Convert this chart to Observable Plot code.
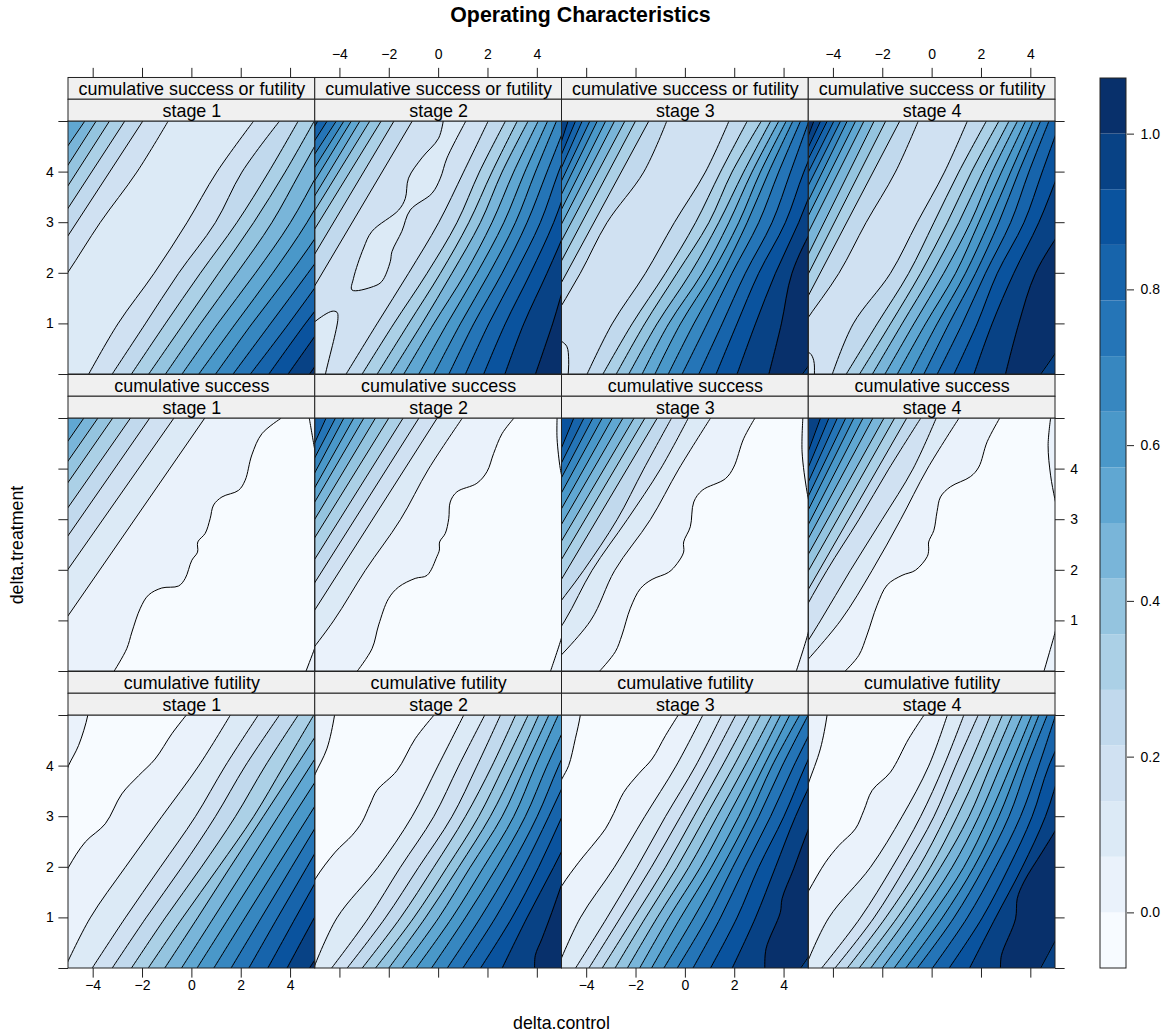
<!DOCTYPE html>
<html>
<head>
<meta charset="utf-8">
<script src="https://cdn.jsdelivr.net/npm/d3@7"></script>
<script src="https://cdn.jsdelivr.net/npm/@observablehq/plot@0.6"></script>
<style>
body{margin:0;background:#fff;font-family:"Liberation Sans",Arial,sans-serif;color:#000}
#page{position:relative;width:1167px;height:1034px;overflow:hidden}
#page svg{position:absolute}
.lab{position:absolute;white-space:nowrap;transform:translate(-50%,-50%)}
</style>
</head>
<body>
<div id="page">
<div class="lab" style="left:580.5px;top:15px;font-weight:bold;font-size:21.3px">Operating Characteristics</div>
<div class="lab" style="left:561.5px;top:1023px;font-size:17.8px">delta.control</div>
<div class="lab" style="left:17px;top:545px;font-size:17.8px;transform:translate(-50%,-50%) rotate(-90deg)">delta.treatment</div>
</div>
<script>
const typeNames = ["cumulative success or futility", "cumulative success", "cumulative futility"];
const stageNames = ["stage 1", "stage 2", "stage 3", "stage 4"];
const xTicks = [-4, -2, 0, 2, 4];
const yTicks = [0, 1, 2, 3, 4, 5];
const yLabelled = [1, 2, 3, 4];
const barTicks = [0, 0.2, 0.4, 0.6, 0.8, 1];
const bandColors = ["#F7FBFF","#EAF2FB","#DCEAF6","#D0E1F2","#C1D9ED","#ABD0E6","#94C4DF","#79B5D9","#60A7D2","#4A98C9","#3787C0","#2575B7","#1764AB","#0A539E","#084285","#08306B"];
const bandEdges = [-1/14,0,1/14,2/14,3/14,4/14,5/14,6/14,7/14,8/14,9/14,10/14,11/14,12/14,13/14,14/14,15/14];

// Each contour: x read at evenly spaced y from 0 to 5, or explicit [x,y] points.
const bandsA1 = [8,7,6,5,4,3,2,3,4,5,6,7,8,9,10,11,12,13,14,15];
const linesA1 = [
[-11.38,-4.35],[-10.46,-3.89],[-9.93,-3.35],[-9.41,-2.73],[-8.69,-2],
[-7.91,-6.49,-5.05,-3.72,-2.23,-.97],
[-4.19,-3,-1.53,-.2,1.01,2.49],
[-3.24,-1.89,-.54,.95,2.03,3.54],
[-2.46,-1.08,.34,1.82,3.11,4.3],
[-1.76,-.34,1.08,2.5,3.78,4.95],
[-1.08,.34,1.82,3.24,4.39,5.54],
[-.41,1.04,2.57,3.99,5.14,6.28],
[.27,1.76,3.27,4.66,5.81,6.96],
[.95,2.43,3.99,5.41,6.55,7.7],
[1.66,3.18,4.7,6.15,7.3,8.45],
[2.36,3.92,5.41,6.89,8.04,9.19],
[3.11,4.59,6.15,7.57,8.7,9.9],
[3.89,5.34,6.8,8.2,9.3,10.4],
[4.76,6.2,7.7,9.1,10.2,11.3]];
const patchesA1 = [];

const bandsA2 = [13,12,11,10,9,8,7,6,5,4,3,4,5,6,7,8,9,10,11,12,13,14,15];
const linesA2 = [
[-10.89,-4.91],[-11.05,-4.53],[-10.85,-4.16],[-10.31,-3.85],[-9.83,-3.55],[-9.4,-3.2],[-9.11,-2.8],[-8.65,-2.34],[-7.93,-1.82],[-7.15,-1.08],
[-3.76,-2.5,-1.22,0,1.01,2],
[-3.11,-1.82,-.47,.74,1.65,2.7],
[-2.5,-1.22,.07,1.22,2.16,3.18],
[-1.96,-.68,.54,1.69,2.57,3.62],
[-1.42,-.2,1.08,2.16,3.04,4.03],
[-.81,.34,1.55,2.64,3.49,4.41],
[-.2,.88,2.05,3.11,3.92,4.77],
[.41,1.42,2.57,3.58,4.39,5.2],
[1.08,2.03,3.11,4.12,4.86,5.68],
[1.82,2.7,3.72,4.66,5.4,6.2],
[2.68,3.45,4.39,5.27,6,6.9],
[3.92,4.62,5.27,6.3,7.2,8]];
const patchesA2 = [
{band:2,pts:[[.2,5.05],[0,4.67],[-.68,4.28],[-1.22,3.88],[-1.35,3.48],[-1.62,3.25],[-2.7,2.83],[-3.04,2.5],[-3.45,1.9],[-3.51,1.67],[-2.64,1.74],[-2.3,1.84],[-1.96,2.23],[-1.89,2.43],[-1.49,2.83],[-1.15,3.25],[-.27,3.58],[.07,3.88],[.34,4.28],[1.15,5.05]]},
{band:2,pts:[[-5.3,.9],[-5,1.05],[-4.32,1.25],[-4.12,1.23],[-4.08,1.11],[-4.59,0],[-4.66,-.2],[-4.75,-.5],[-5.3,-.5]]}];

const bandsA3 = [14,13,12,11,10,9,8,7,6,5,4,3,4,5,6,7,8,9,10,11,12,13,14,15,14];
const linesA3 = [
[-8.11,-4.76],[-8.78,-4.46],[-8.75,-4.19],[-8.74,-3.88],[-8.59,-3.58],[-8.37,-3.24],[-8.16,-2.88],[-7.89,-2.46],[-7.46,-2.03],[-7.04,-1.49],
[-6.76,-5.47,-4.26,-3.18,-1.69,-.76],
[-3.99,-2.97,-1.62,-.45,.81,1.76],
[-3.35,-2.16,-.81,.41,1.42,2.5],
[-2.81,-1.65,-.34,.95,1.89,3.07],
[-2.3,-1.15,.2,1.35,2.36,3.45],
[-1.76,-.68,.68,1.76,2.7,3.78],
[-1.24,-.2,1.08,2.16,3.04,4.08],
[-.7,.34,1.49,2.5,3.38,4.35],
[-.14,.88,1.89,2.97,3.78,4.66],
[.54,1.49,2.43,3.51,4.26,5],
[1.24,2.09,2.97,4.05,4.8,5.68],
[2.09,2.84,3.65,4.59,5.4,6.2],
[3.38,3.89,4.32,5.27,6.5,7.6],
[[4.73,0],[4.97,.16],[5.3,.4]]];
const patchesA3 = [{band:2,pts:[[-5.2,.7],[-5,.65],[-4.8,.55],[-4.73,.29],[-4.76,-.07],[-4.8,-.3],[-5.3,-.3]]}];

const bandsA4 = [15,14,13,12,11,10,9,8,7,6,5,4,3,4,5,6,7,8,9,10,11,12,13,14,15,14];
const linesA4 = [
[-8.65,-4.8],[-9.31,-4.53],[-9.38,-4.26],[-9.12,-3.99],[-8.85,-3.72],[-8.46,-3.45],[-8.23,-3.11],[-7.9,-2.77],[-7.42,-2.36],[-7.08,-1.89],[-6.69,-1.32],
[-6.49,-5.2,-3.78,-2.68,-1.49,-.57],
[-4.05,-3.2,-1.69,-.61,.5,1.42],
[-3.49,-2.23,-.95,.07,1.08,2.19],
[-2.95,-1.69,-.47,.61,1.59,2.7],
[-2.43,-1.22,0,1.08,2.05,3.11],
[-1.92,-.74,.47,1.55,2.43,3.45],
[-1.42,-.27,.95,1.89,2.81,3.78],
[-.88,.2,1.35,2.3,3.18,4.08],
[-.34,.68,1.76,2.7,3.51,4.39],
[.2,1.22,2.16,3.18,3.92,4.73],
[.88,1.82,2.64,3.72,4.46,5.2],
[1.69,2.43,3.31,4.32,5.14,5.95],
[2.97,3.51,4.19,5.41,6.62,7.84],
[[4.39,0],[5.03,.45],[5.4,.75]]];
const patchesA4 = [{band:2,pts:[[-5.2,.45],[-4.95,.42],[-4.8,.28],[-4.77,0],[-4.8,-.3],[-5.3,-.3]]}];

const bandsB1 = [8,7,6,5,4,3,2,1,0,1,1];
const linesB1 = [
[-11.49,-4.39],[-10.96,-3.82],[-10.34,-3.22],[-9.66,-2.5],[-8.84,-1.72],[-7.92,-.74],[-6.58,.51],
[[-3.16,0],[-2.64,.45],[-2.43,.78],[-2.09,1.25],[-1.76,1.51],[-1.22,1.65],[-.54,1.69],[-.27,1.84],[0,2.2],[.23,2.36],[.24,2.56],[.54,2.73],[.74,3.02],[.88,3.29],[1.22,3.45],[1.89,3.58],[2.16,3.78],[2.43,4.28],[2.84,4.7],[3.6,5]],
[[5.07,4.14],[4.97,4.41],[4.76,5]],
[[4.62,0],[4.97,.45],[5.07,.6]]];
const patchesB1 = [];

const bandsB2 = [12,11,10,9,8,7,6,5,4,3,2,1,0,1,1];
const linesB2 = [
[-9.26,-4.57],[-9.54,-4.19],[-9.3,-3.85],[-9.2,-3.45],[-9.04,-3.04],[-8.72,-2.57],[-8.38,-2.03],[-7.87,-1.45],[-7.3,-.81],[-6.61,-.07],
[-5.81,-4.26,-2.97,-1.55,-.41,.95],
[[-3.31,0],[-2.7,.45],[-2.43,.92],[-2.03,1.44],[-1.62,1.67],[-.95,1.84],[-.47,1.9],[-.07,2.27],[.03,2.4],[.04,2.56],[.27,2.73],[.41,3.02],[.47,3.35],[.74,3.55],[1.55,3.72],[1.96,3.95],[2.23,4.31],[2.57,4.7],[3.04,5]],
[[5.03,3.78],[4.93,4.01],[4.8,4.6],[4.8,5]],
[[4.53,0],[4.97,.65],[5.07,.85]]];
const patchesB2 = [];

const bandsB3 = [13,12,11,10,9,8,7,6,5,4,3,2,1,0,1,1];
const linesB3 = [
[-8.76,-4.53],[-9.26,-4.12],[-9.15,-3.76],[-8.97,-3.38],[-8.72,-2.97],[-8.47,-2.54],[-8.14,-2.09],[-7.7,-1.65],[-7.24,-1.15],
[-6.76,-5.61,-4.12,-2.77,-1.69,-.57],
[-6.28,-4.89,-3.78,-2.36,-1.01,.11],
[-5.68,-3.85,-2.86,-1.42,-.27,1.01],
[[-3.49,0],[-2.84,.39],[-2.57,.72],[-2.23,1.25],[-1.82,1.64],[-1.35,1.82],[-.68,1.96],[-.34,2.13],[-.07,2.36],[-.07,2.56],[.2,2.86],[.34,3.35],[.68,3.58],[1.62,3.81],[1.96,4.04],[2.36,4.6],[2.81,5]],
[[5.07,3.22],[4.93,3.55],[4.73,4.34],[4.76,5]],
[[4.49,0],[4.97,.75],[5.07,1]]];
const patchesB3 = [];

const bandsB4 = [14,13,12,11,10,9,8,7,6,5,4,3,2,1,0,1,1];
const linesB4 = [
[-8.31,-4.53],[-8.49,-4.19],[-8.51,-3.85],[-8.42,-3.51],[-8.27,-3.18],[-8.08,-2.81],[-7.91,-2.41],[-7.66,-1.96],[-7.32,-1.53],[-6.93,-1.04],
[-6.42,-5.41,-4.26,-2.97,-1.76,-.47],
[-5.81,-4.53,-3.31,-2.03,-.78,.16],
[-5.47,-3.72,-2.43,-1.28,-.2,1.08],
[[-3.54,0],[-2.97,.32],[-2.64,.72],[-2.23,1.31],[-1.82,1.71],[-1.22,1.9],[-.68,2],[-.2,2.27],[-.14,2.4],[-.14,2.56],[.07,2.79],[.2,3.16],[.34,3.45],[.74,3.65],[1.55,3.85],[1.89,4.04],[2.23,4.54],[2.73,5]],
[[5.07,3.2],[4.97,3.42],[4.8,3.88],[4.7,4.47],[4.8,5]],
[[4.53,0],[4.97,.75],[5.07,.95]]];
const patchesB4 = [];

const bandsC = [0,1,2,3,4,5,6,7,8,9,10,11,12,13,14,15];
const bandsCcorner = [0,1,2,3,4,5,6,7,8,9,10,11,12,13,14,15,14];
const linesC1 = [
[[-8,0],[-5.5,1.5],[-5,2],[-4.32,2.5],[-3.51,2.86],[-2.84,3.45],[-2.16,3.81],[-1.49,4.14],[-.81,4.64],[-.24,5]],
[-5.16,-4.12,-2.7,-1.22,.27,1.55],
[-4.05,-2.7,-1.28,.14,1.35,2.68],
[-3.24,-1.86,-.41,.95,2.16,3.54],
[-2.46,-1.08,.38,1.76,2.97,4.3],
[-1.78,-.38,1.08,2.5,3.72,4.93],
[-1.11,.23,1.55,2.89,4.23,5.55],
[-.43,.88,2.19,3.49,4.8,6.11],
[.2,1.5,2.8,4.09,5.41,6.7],
[.88,2.15,3.43,4.72,5.99,7.27],
[1.58,2.81,4.04,5.27,6.5,7.73],
[2.3,3.47,4.66,5.84,7.01,8.2],
[3.07,4.2,5.35,6.49,7.62,8.77],
[3.85,4.96,6.1,7.2,8.3,9.4],
[4.76,6.1,7.5,8.9,10.3,11.7]];
const patchesC1 = [{band:1,pts:[[-4.15,5.3],[-4.22,5],[-4.59,4.41],[-5,4.01],[-5.2,3.75],[-5.5,3.5],[-5.5,5.3]]}];

const linesC2 = [
[[-8,0],[-5.5,1.3],[-5,1.77],[-4.19,2.3],[-3.51,2.63],[-3.11,2.89],[-2.77,3.25],[-2.5,3.52],[-1.69,3.91],[-.95,4.54],[-.2,5]],
[-5.07,-4.12,-2.46,-1.08,-.03,1.01],
[-4.35,-2.84,-1.55,-.2,.81,1.86],
[-3.72,-2.16,-.81,.54,1.55,2.5],
[-3.11,-1.55,-.2,1.08,2.16,3.11],
[-2.57,-1.01,.34,1.62,2.64,3.62],
[-2.03,-.54,.81,2.09,3.11,4.05],
[-1.49,0,1.28,2.57,3.51,4.46],
[-.92,.54,1.82,3.04,3.92,4.84],
[-.3,1.08,2.36,3.51,4.39,5.34],
[.34,1.69,2.91,3.99,4.86,5.81],
[.97,2.3,3.45,4.46,5.41,6.35],
[1.69,2.97,4.05,5,5.95,6.89],
[2.57,3.58,4.66,5.68,6.62,7.57],
[[3.89,0],[3.92,.26],[4.19,.59],[4.59,1.11],[4.97,1.64],[5.8,2.8],[7.15,4.3],[7.97,5]]];
const patchesC2 = [{band:1,pts:[[-4.15,5.3],[-4.22,5],[-4.53,4.34],[-5,3.85],[-5.2,3.6],[-5.5,3.4],[-5.5,5.3]]}];

const linesC3 = [
[[-8,0],[-5.5,1.2],[-5,1.64],[-4.32,2.1],[-3.65,2.5],[-3.24,2.76],[-2.91,3.06],[-2.5,3.48],[-1.89,3.85],[-1.35,4.14],[-.81,4.6],[-.3,5]],
[-5.2,-4.26,-2.88,-1.65,-.38,.7],
[-4.46,-3.18,-1.96,-.81,.41,1.46],
[-3.92,-2.64,-1.38,-.2,.95,2.03],
[-3.38,-2.09,-.81,.34,1.49,2.59],
[-2.86,-1.62,-.34,.81,1.96,3.04],
[-2.36,-1.15,.14,1.28,2.41,3.49],
[-1.86,-.68,.61,1.72,2.81,3.85],
[-1.38,-.2,1.05,2.16,3.18,4.22],
[-.88,.34,1.49,2.57,3.51,4.62],
[-.34,.88,1.92,2.97,3.92,4.97],
[.3,1.42,2.41,3.45,4.39,5.41],
[1.01,2.09,2.97,3.99,4.86,5.81],
[1.89,2.84,3.65,4.46,5.41,6.35],
[[3.22,0],[3.27,.39],[3.85,1.11],[3.92,1.38],[4.39,1.97],[4.97,2.73],[5.81,3.7],[7.16,5]],
[[4.66,0],[4.97,.22],[5.2,.4]]];
const patchesC3 = [{band:1,pts:[[-4.2,5.3],[-4.26,5],[-4.46,4.54],[-4.73,4.01],[-5,3.75],[-5.2,3.55],[-5.5,3.3],[-5.5,5.3]]}];

const linesC4 = [
[[-8,0],[-5.5,1.1],[-5,1.54],[-4.32,2.1],[-3.78,2.43],[-3.11,2.76],[-2.77,3.12],[-2.43,3.52],[-1.69,3.88],[-.95,4.54],[-.34,5]],
[-5.16,-4.19,-2.5,-1.22,-.14,.61],
[-4.49,-2.91,-1.62,-.47,.47,1.28],
[-3.95,-2.36,-1.08,.07,.95,1.86],
[-3.45,-1.89,-.54,.54,1.49,2.36],
[-2.97,-1.42,-.07,1.01,1.96,2.84],
[-2.5,-1.01,.34,1.49,2.36,3.24],
[-2.03,-.54,.81,1.89,2.77,3.65],
[-1.55,-.07,1.28,2.3,3.18,4.03],
[-1.08,.41,1.69,2.7,3.51,4.32],
[-.61,.88,2.09,3.11,3.85,4.66],
[0,1.42,2.57,3.58,4.32,5],
[.68,2.03,3.11,4.05,4.73,5.68],
[1.51,2.57,3.65,4.59,5.27,6.2],
[[2.77,0],[2.81,.26],[3.38,.98],[3.45,1.38],[3.72,1.71],[4.46,2.3],[5,2.73],[6.2,3.8],[7.84,5]],
[[4.39,0],[4.97,.53],[5.2,.75]]];
const patchesC4 = [{band:1,pts:[[-4.2,5.3],[-4.26,5],[-4.53,4.34],[-5,3.68],[-5.2,3.4],[-5.5,3.2],[-5.5,5.3]]}];

const panelData = [
 [0,0,bandsA1,linesA1,patchesA1],[0,1,bandsA2,linesA2,patchesA2],[0,2,bandsA3,linesA3,patchesA3],[0,3,bandsA4,linesA4,patchesA4],
 [1,0,bandsB1,linesB1,patchesB1],[1,1,bandsB2,linesB2,patchesB2],[1,2,bandsB3,linesB3,patchesB3],[1,3,bandsB4,linesB4,patchesB4],
 [2,0,bandsC,linesC1,patchesC1],[2,1,bandsC,linesC2,patchesC2],[2,2,bandsCcorner,linesC3,patchesC3],[2,3,bandsCcorner,linesC4,patchesC4]
];

const panels = [], contourRows = [], patchRows = [];
let uid = 0;
for (const [t, s, bands, lines, patches] of panelData) {
  const type = typeNames[t], stage = stageNames[s];
  panels.push({type, stage, band: bands[0]});
  lines.forEach((ln, i) => {
    const id = uid++, band = bands[i + 1];
    const pts = typeof ln[0] === "number" ? ln.map((x, k) => [x, k * 5 / (ln.length - 1)]) : ln;
    for (const [x, y] of pts) contourRows.push({type, stage, id, band, x, y, xr: 14});
  });
  for (const p of patches) {
    const id = uid++;
    for (const [x, y] of p.pts) patchRows.push({type, stage, id, band: p.band, x, y});
  }
}
const minus = v => String(v).replace("-", "\u2212");
const leftTicks = [], rightTicks = [], topTicks = [], bottomTicks = [];
const leftLabels = [], rightLabels = [], topLabels = [], bottomLabels = [];
typeNames.forEach((type, r) => {
  for (const y of yTicks) {
    leftTicks.push({type, stage: stageNames[0], y, a: -5, b: -5.39});
    rightTicks.push({type, stage: stageNames[3], y, a: 5, b: 5.39});
  }
  for (const y of yLabelled) {
    if (r !== 1) leftLabels.push({type, stage: stageNames[0], y, x: -5.6, t: String(y)});
    else rightLabels.push({type, stage: stageNames[3], y, x: 5.6, t: String(y)});
  }
});
stageNames.forEach((stage, c) => {
  for (const x of xTicks) {
    topTicks.push({type: typeNames[0], stage, x, a: 5.86, b: 6.05});
    bottomTicks.push({type: typeNames[2], stage, x, a: 0, b: -0.19});
    if (c % 2) topLabels.push({type: typeNames[0], stage, x, y: 6.33, t: minus(x)});
    else bottomLabels.push({type: typeNames[2], stage, x, y: -0.34, t: minus(x)});
  }
});
const strips = panels.flatMap(p => [
  {type: p.type, stage: p.stage, x: 0, a: 5.43, b: 5.86, m: 5.64, t: p.type},
  {type: p.type, stage: p.stage, x: 0, a: 5, b: 5.43, m: 5.21, t: p.stage}
]);
const facet = {fx: "stage", fy: "type"};
const curve = "catmull-rom";

const main = Plot.plot({
  width: 1167, height: 1034,
  marginLeft: 68, marginRight: 112, marginTop: 121, marginBottom: 66,
  style: {fontFamily: "'Liberation Sans', Arial, sans-serif", background: "transparent", overflow: "visible", left: "0", top: "0"},
  fx: {domain: stageNames, padding: 0, round: false, axis: null},
  fy: {domain: typeNames, paddingInner: 44 / 297, paddingOuter: 0, round: false, axis: null},
  x: {domain: [-5, 5], axis: null},
  y: {domain: [0, 5], axis: null},
  color: {type: "ordinal", domain: d3.range(16), range: bandColors},
  marks: [
    Plot.rect(panels, {...facet, x1: () => -5, x2: () => 5, y1: () => 0, y2: () => 5, fill: "band"}),
    Plot.areaX(contourRows, {...facet, x1: "x", x2: "xr", y: "y", z: "id", fill: "band", curve, clip: true}),
    Plot.line(contourRows, {...facet, x: "x", y: "y", z: "id", stroke: "black", strokeWidth: 1, curve, clip: true}),
    Plot.line(patchRows, {...facet, x: "x", y: "y", z: "id", fill: "band", stroke: "black", strokeWidth: 1, curve, clip: true}),
    Plot.rect(panels, {...facet, x1: () => -5, x2: () => 5, y1: () => 0, y2: () => 5, fill: "none", stroke: "#222", strokeWidth: 1}),
    Plot.rect(strips, {...facet, x1: () => -5, x2: () => 5, y1: "a", y2: "b", fill: "#F0F0F0", stroke: "#222", strokeWidth: 1}),
    Plot.text(strips, {...facet, x: "x", y: "m", text: "t", fontSize: 17.9, fill: "black"}),
    Plot.ruleY(leftTicks, {...facet, y: "y", x1: "a", x2: "b", stroke: "#222"}),
    Plot.ruleY(rightTicks, {...facet, y: "y", x1: "a", x2: "b", stroke: "#222"}),
    Plot.ruleX(topTicks, {...facet, x: "x", y1: "a", y2: "b", stroke: "#222"}),
    Plot.ruleX(bottomTicks, {...facet, x: "x", y1: "a", y2: "b", stroke: "#222"}),
    Plot.text(leftLabels, {...facet, x: "x", y: "y", text: "t", textAnchor: "end", fontSize: 14, fill: "black"}),
    Plot.text(rightLabels, {...facet, x: "x", y: "y", text: "t", textAnchor: "start", fontSize: 14, fill: "black"}),
    Plot.text(topLabels, {...facet, x: "x", y: "y", text: "t", fontSize: 14, fill: "black"}),
    Plot.text(bottomLabels, {...facet, x: "x", y: "y", text: "t", fontSize: 14, fill: "black"})
  ]
});

const barRows = bandColors.map((c, i) => ({band: i, lo: bandEdges[i], hi: bandEdges[i + 1]}));
const bar = Plot.plot({
  width: 68, height: 906,
  marginLeft: 1, marginRight: 41, marginTop: 8, marginBottom: 8,
  style: {fontFamily: "'Liberation Sans', Arial, sans-serif", background: "transparent", overflow: "visible", left: "1099px", top: "70px"},
  x: {domain: [0, 1], axis: null},
  y: {domain: [-1 / 14, 15 / 14]},
  color: {type: "ordinal", domain: d3.range(16), range: bandColors},
  marks: [
    Plot.rect(barRows, {x1: () => 0, x2: () => 1, y1: "lo", y2: "hi", fill: "band"}),
    Plot.rect([0], {x1: () => 0, x2: () => 1, y1: () => -1 / 14, y2: () => 15 / 14, fill: "none", stroke: "#222"}),
    Plot.axisY({anchor: "right", ticks: barTicks, tickFormat: d3.format(".1f"), tickSize: 7, tickPadding: 7, label: null, fontSize: 14, stroke: "#222", fill: "black"})
  ]
});
const page = document.getElementById("page");
page.appendChild(main);
page.appendChild(bar);
</script>
</body>
</html>
